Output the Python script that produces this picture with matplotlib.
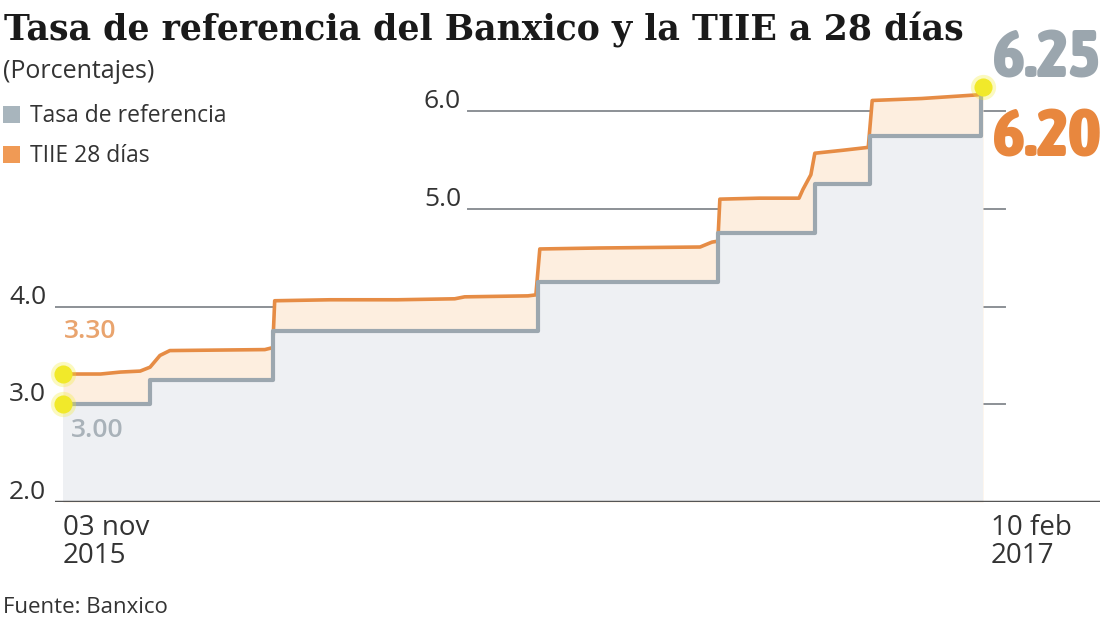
import numpy as np
import pandas as pd
import matplotlib
matplotlib.use("Agg")
import matplotlib.pyplot as plt
from matplotlib import font_manager as fm

# Tasa de referencia (escalones)
ref_dates = ["2015-11-03", "2015-12-17", "2016-02-17", "2016-06-30", "2016-09-29",
             "2016-11-17", "2016-12-15", "2017-02-09", "2017-02-10"]
ref_vals = [3.00, 3.25, 3.75, 4.25, 4.75, 5.25, 5.75, 6.25, 6.25]

# TIIE 28 dias
tiie_dates = ["2015-11-03", "2015-11-22", "2015-12-02", "2015-12-12", "2015-12-17",
              "2015-12-22", "2015-12-27", "2016-02-13", "2016-02-17", "2016-02-18",
              "2016-03-17", "2016-04-20", "2016-05-19", "2016-05-24", "2016-06-25",
              "2016-06-29", "2016-07-01", "2016-07-31", "2016-09-20", "2016-09-26",
              "2016-09-29", "2016-09-30", "2016-10-20", "2016-11-09", "2016-11-11",
              "2016-11-15", "2016-11-17", "2016-12-01", "2016-12-14", "2016-12-16",
              "2017-01-10", "2017-02-09", "2017-02-10"]
tiie_vals = [3.31, 3.31, 3.33, 3.34, 3.38,
             3.50, 3.55, 3.56, 3.58, 4.06,
             4.07, 4.07, 4.08, 4.10, 4.11,
             4.12, 4.59, 4.60, 4.61, 4.66,
             4.67, 5.10, 5.11, 5.11, 5.20,
             5.35, 5.57, 5.60, 5.63, 6.11,
             6.13, 6.17, 6.20]

grid_vals = [3.0, 4.0, 5.0, 6.0]
left_labels = ["2.0", "3.0", "4.0"]
inner_labels = ["5.0", "6.0"]

ref_x = pd.to_datetime(ref_dates)
tiie_x = pd.to_datetime(tiie_dates)

W, H = 1107, 620
GRAY = "#9ca7af"
ORANGE = "#e68c45"
TEXT = "#333333"
font = "Open Sans"


def fx(px):
    return px / W


def fy(py):
    return 1 - py / H


STRETCH_RANK = {"ultra-condensed": 100, "extra-condensed": 200, "condensed": 300,
                "semi-condensed": 400, "normal": 500}


def narrow_font():
    # busca la fuente condensada (recta, en negrita) mas estrecha; si no hay, Roboto
    found = []
    for f in fm.fontManager.ttflist:
        if f.style != "normal":
            continue
        st = f.stretch
        rank = st if isinstance(st, (int, float)) else STRETCH_RANK.get(str(st), 500)
        if "Narrow" in f.name or "Condensed" in f.name:
            rank = min(rank, 300)
        w = f.weight if isinstance(f.weight, (int, float)) else (700 if "bold" in str(f.weight) else 400)
        if rank < 500 and w >= 600:
            found.append((rank, f.name, f.fname))
    if found:
        found.sort()
        return fm.FontProperties(fname=found[0][2])
    return fm.FontProperties(family="Roboto", weight="bold")


fig = plt.figure(figsize=(W / 100, H / 100), dpi=100)
ax = fig.add_axes([fx(55), fy(502), fx(1100) - fx(55), fy(52.6) - fy(502)])
ppd = 920 / 465.0
ax.set_xlim(ref_x[0] - pd.Timedelta(days=8 / ppd), ref_x[0] + pd.Timedelta(days=(1100 - 63) / ppd))
ax.set_ylim(2.0, 6.6)
ax.axis("off")

# lineas guia
for g in grid_vals:
    xmin = 0 if g < 4.5 else (468 - 55) / 1045
    ax.axhline(g, xmin=xmin, xmax=(1005 - 55) / 1045, color="#8c9196", lw=1.4, zorder=1)

# rellenos
ax.fill_between(tiie_x, 2.0, tiie_vals, color="#fdeedf", lw=0, zorder=2)
ax.fill_between(ref_x, 2.0, ref_vals, step="post", color="#eef0f3", lw=0, zorder=3)

ax.plot(tiie_x, tiie_vals, color=ORANGE, lw=2.6, zorder=4, solid_capstyle="butt")
ax.plot(ref_x, ref_vals, color=GRAY, lw=3, drawstyle="steps-post", zorder=5)

# linea base
ax.axhline(2.0, color="#555555", lw=2.5, zorder=6)

# puntos amarillos
pts_x = [tiie_x[0], ref_x[0], ref_x[-1]]
pts_y = [tiie_vals[0], ref_vals[0], ref_vals[-1]]
ax.scatter(pts_x, pts_y, s=330, color="#f3ec2e", alpha=0.3, lw=0, zorder=7, clip_on=False)
ax.scatter(pts_x, pts_y, s=170, color="#f1e92a", lw=0, zorder=8, clip_on=False)

# etiquetas eje y
for lab in left_labels:
    ax.annotate(lab, (0, float(lab)), xycoords=("axes fraction", "data"),
                xytext=(-9, 3), textcoords="offset pixels", ha="right", va="baseline",
                fontsize=19, color=TEXT, family=font)
for lab in inner_labels:
    ax.annotate(lab, ((468 - 55) / 1045, float(lab)), xycoords=("axes fraction", "data"),
                xytext=(-7, 3), textcoords="offset pixels", ha="right", va="baseline",
                fontsize=19, color=TEXT, family=font)

# valores inicio
ax.annotate("3.30", (tiie_x[0], tiie_vals[0]), xytext=(1, 30), textcoords="offset pixels",
            ha="left", va="bottom", fontsize=19, fontweight="semibold", color="#e9a46e", family=font)
ax.annotate("3.00", (ref_x[0], ref_vals[0]), xytext=(8, -14), textcoords="offset pixels",
            ha="left", va="top", fontsize=19, fontweight="semibold", color="#a9b2b9", family=font)

# valores final, ajustados al ancho de la referencia
fp = narrow_font()
big = []
for txt, ybase, col in [("6.25", 77, "#9ba6ae"), ("6.20", 157, "#e8873e")]:
    t = fig.text(fx(993), fy(ybase), txt, fontproperties=fp, fontsize=50, color=col,
                 ha="left", va="baseline")
    big.append(t)
fig.canvas.draw()
rend = fig.canvas.get_renderer()
for t in big:
    wpx = t.get_window_extent(rend).width
    t.set_fontsize(min(60, 50 * 107.0 / wpx))

# fechas
ax.annotate("03 nov\n2015", (ref_x[0], 2.0), xytext=(0, -12), textcoords="offset pixels",
            ha="left", va="top", fontsize=20, color=TEXT, family=font, linespacing=1.0)
ax.annotate("10 feb\n2017", (ref_x[-1], 2.0), xytext=(8, -12), textcoords="offset pixels",
            ha="left", va="top", fontsize=20, color=TEXT, family=font, linespacing=1.0)

# titulo y leyenda
fig.text(fx(4), fy(40), "Tasa de referencia del Banxico y la TIIE a 28 días",
         fontsize=25, fontweight="bold", family="DejaVu Serif", color="#1a1a1a", va="baseline")
fig.text(fx(3), fy(78), "(Porcentajes)", fontsize=18, color=TEXT, family=font, va="baseline")
fig.patches.append(plt.Rectangle((fx(3), fy(123)), fx(17), 17 / H, transform=fig.transFigure,
                                 color="#a8b5bd", lw=0))
fig.text(fx(30), fy(122), "Tasa de referencia", fontsize=16.5, color=TEXT, family=font, va="baseline")
fig.patches.append(plt.Rectangle((fx(3), fy(163)), fx(17), 17 / H, transform=fig.transFigure,
                                 color="#f09a55", lw=0))
fig.text(fx(30), fy(162), "TIIE 28 días", fontsize=16.5, color=TEXT, family=font, va="baseline")

fig.text(fx(3), fy(613), "Fuente: Banxico", fontsize=16, color=TEXT, family=font, va="baseline")

fig.savefig("out.png", dpi=100)
